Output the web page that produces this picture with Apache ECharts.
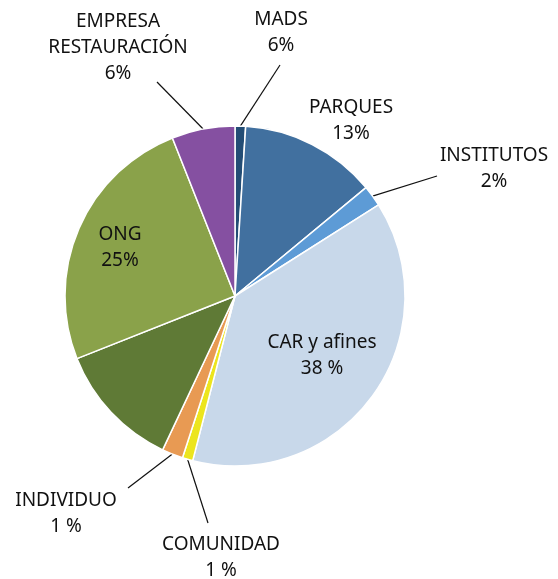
<!DOCTYPE html>
<html>
<head>
<meta charset="utf-8">
<script src="https://cdn.jsdelivr.net/npm/echarts@6/dist/echarts.min.js"></script>
<style>
  html, body { margin: 0; padding: 0; background: #fff; }
  #main { width: 558px; height: 579px; }
</style>
</head>
<body>
<div id="main"></div>
<script>
// categorias y valores
var categories = ['MADS', 'PARQUES', 'INSTITUTOS', 'CAR y afines', 'COMUNIDAD', 'INDIVIDUO', '', 'ONG', 'EMPRESA\nRESTAURACIÓN'];
var values = [1, 13, 2, 38, 1, 2, 12, 25, 6];
var pctLabels = ['6%', '13%', '2%', '38 %', '1 %', '1 %', '', '25%', '6%'];
var colors = ['#234d75', '#41709f', '#5d9bd6', '#c8d8ea', '#ece51e', '#e89a53', '#5f7a36', '#8aa24a', '#8550a1'];

// posicion de cada etiqueta y extremo de su linea guia
var labelPos = [
    {x: 281, y: 33, end: [280, 65]},
    {x: 351, y: 121},
    {x: 494, y: 169, end: [437, 176]},
    {x: 322, y: 356},
    {x: 221, y: 558, end: [208, 523]},
    {x: 66, y: 514, end: [128, 488]},
    null,
    {x: 120, y: 248},
    {x: 118, y: 48, end: [157, 82]}
];

var myChart = echarts.init(document.getElementById('main'));

var data = categories.map(function (name, i) {
    var item = {
        name: name,
        value: values[i],
        itemStyle: {color: colors[i]}
    };
    if (!pctLabels[i]) {
        item.label = {show: false};
        item.labelLine = {show: false};
    } else if (!labelPos[i].end) {
        item.labelLine = {show: false};
    }
    return item;
});

myChart.setOption({
    animation: false,
    series: [
        {
            type: 'pie',
            center: [235, 296],
            radius: 170,
            startAngle: 90,
            clockwise: true,
            avoidLabelOverlap: false,
            itemStyle: {
                borderColor: '#ffffff',
                borderWidth: 1.5
            },
            label: {
                show: true,
                position: 'outside',
                fontFamily: 'Noto Sans',
                fontSize: 19,
                lineHeight: 26,
                color: '#111',
                align: 'center',
                formatter: function (p) {
                    return p.name + '\n' + pctLabels[p.dataIndex];
                }
            },
            labelLine: {
                show: true,
                length: 10,
                length2: 10,
                lineStyle: {color: '#111', width: 1.2}
            },
            labelLayout: function (params) {
                var pos = labelPos[params.dataIndex];
                if (!pos) {
                    return {};
                }
                var res = {
                    x: pos.x,
                    y: pos.y,
                    align: 'center',
                    verticalAlign: 'middle'
                };
                if (pos.end && params.labelLinePoints) {
                    var p0 = params.labelLinePoints[0];
                    res.labelLinePoints = [p0, pos.end, pos.end];
                }
                return res;
            },
            data: data
        }
    ]
});
</script>
</body>
</html>
